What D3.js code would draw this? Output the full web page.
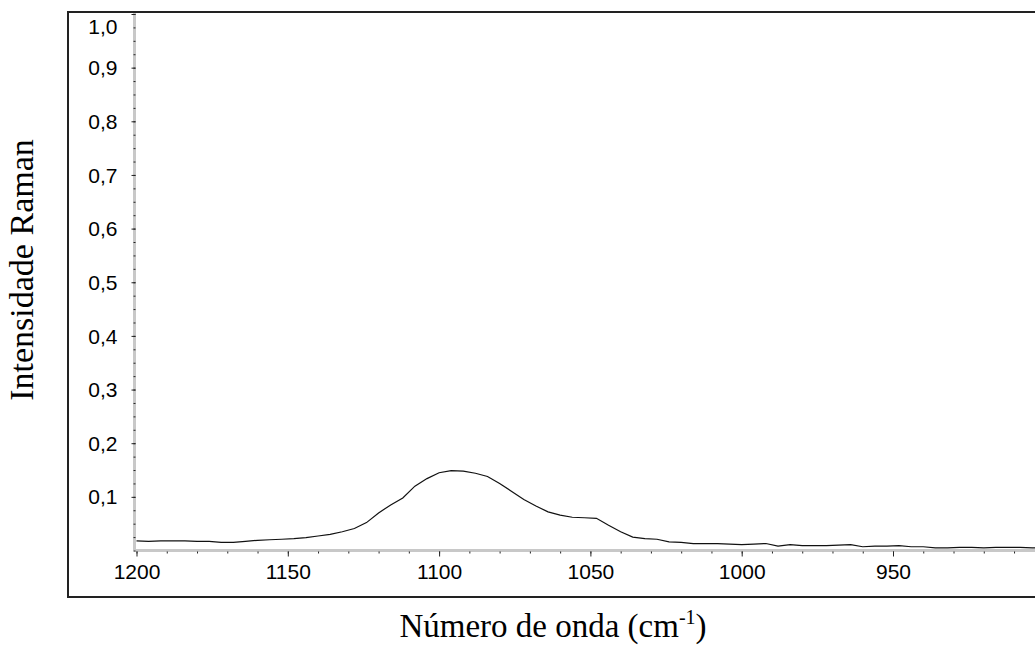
<!DOCTYPE html>
<html>
<head>
<meta charset="utf-8">
<script src="https://cdn.jsdelivr.net/npm/d3@7"></script>
<style>
  html, body { margin: 0; padding: 0; background: #fff; }
  svg { display: block; }
</style>
</head>
<body>
<svg id="chart" width="1035" height="650"></svg>
<script>
// Raman spectrum, 1200 → 900 cm-1
const wavenumber = [1200,1196,1192,1188,1184,1180,1176,1172,1168,1164,1160,1156,1152,1148,1144,1140,1136,1132,1128,1124,1120,1116,1112,1108,1104,1100,1096,1092,1088,1084,1080,1076,1072,1068,1064,1060,1056,1052,1048,1044,1040,1036,1032,1028,1024,1020,1016,1012,1008,1004,1000,996,992,988,984,980,976,972,968,964,960,956,952,948,944,940,936,932,928,924,920,916,912,908,904,900];
const intensity = [0.018,0.017,0.018,0.018,0.018,0.017,0.017,0.015,0.015,0.017,0.019,0.020,0.021,0.022,0.024,0.027,0.030,0.035,0.041,0.052,0.070,0.085,0.098,0.120,0.134,0.145,0.149,0.148,0.144,0.138,0.125,0.110,0.095,0.083,0.072,0.066,0.062,0.061,0.060,0.047,0.035,0.025,0.022,0.021,0.016,0.015,0.013,0.013,0.013,0.012,0.011,0.012,0.013,0.008,0.011,0.009,0.009,0.009,0.010,0.011,0.007,0.008,0.008,0.009,0.007,0.007,0.005,0.005,0.006,0.006,0.005,0.006,0.006,0.006,0.005,0.005];

const xTickValues = [1200,1150,1100,1050,1000,950];
const xTickLabels = ["1200","1150","1100","1050","1000","950"];
const yTickValues = [0.1,0.2,0.3,0.4,0.5,0.6,0.7,0.8,0.9,1.0];
const yTickLabels = ["0,1","0,2","0,3","0,4","0,5","0,6","0,7","0,8","0,9","1,0"];

const xTitle = "Número de onda (cm";
const xTitleSup = "-1";
const yTitle = "Intensidade Raman";

const svg = d3.select("#chart");

const x = d3.scaleLinear().domain([1200, 900]).range([136.5, 1044.3]);
const y = d3.scaleLinear().domain([0, 1]).range([550.5, 14]);

// outer frame
svg.append("rect")
  .attr("x", 68).attr("y", 12)
  .attr("width", 1100).attr("height", 585)
  .attr("fill", "none").attr("stroke", "#222").attr("stroke-width", 2);

const tickFont = "Liberation Sans, Arial, sans-serif";

// grey axis lines
svg.append("line")
  .attr("x1", x(1200) - 2).attr("x2", 1040)
  .attr("y1", y(0)).attr("y2", y(0))
  .attr("stroke", "#c8c8c8").attr("stroke-width", 3);
svg.append("line")
  .attr("x1", x(1200) - 2).attr("x2", x(1200) - 2)
  .attr("y1", y(1) - 1).attr("y2", y(0))
  .attr("stroke", "#c8c8c8").attr("stroke-width", 3);

// x axis: minor ticks every 10, major every 50
const xMinor = d3.range(1200, 899, -10);
const xAxisMinor = d3.axisBottom(x).tickValues(xMinor).tickSize(2).tickFormat("");
const gxm = svg.append("g").attr("transform", `translate(0,${y(0) + 1})`).call(xAxisMinor);
gxm.select(".domain").remove();
gxm.selectAll(".tick line").attr("stroke", "#222").attr("stroke-width", 1);

const xAxis = d3.axisBottom(x).tickValues(xTickValues).tickSize(5).tickPadding(8)
  .tickFormat((d, i) => xTickLabels[i]);
const gx = svg.append("g").attr("transform", `translate(0,${y(0) + 1})`).call(xAxis);
gx.select(".domain").remove();
gx.selectAll(".tick line").attr("stroke", "#222").attr("stroke-width", 1);
gx.selectAll(".tick text")
  .attr("font-family", tickFont).attr("font-size", 21).attr("fill", "#000");

// y axis: minor ticks every 0.025, major every 0.1
const yMinor = d3.range(0, 41).map(i => i * 0.025);
const yAxisMinor = d3.axisLeft(y).tickValues(yMinor).tickSize(2).tickFormat("");
const gym = svg.append("g").attr("transform", `translate(${x(1200) - 1},0)`).call(yAxisMinor);
gym.select(".domain").remove();
gym.selectAll(".tick line").attr("stroke", "#222").attr("stroke-width", 1);

const yAxis = d3.axisLeft(y).tickValues(yTickValues).tickSize(4).tickPadding(14)
  .tickFormat((d, i) => yTickLabels[i]);
const gy = svg.append("g").attr("transform", `translate(${x(1200) - 1},0)`).call(yAxis);
gy.select(".domain").remove();
gy.selectAll(".tick line").attr("stroke", "#222").attr("stroke-width", 1);
gy.selectAll(".tick text")
  .attr("font-family", tickFont).attr("font-size", 21).attr("fill", "#000")
  .attr("dy", d => d === 1.0 ? "0.95em" : "0.34em");

// spectrum
const line = d3.line()
  .x((d, i) => x(wavenumber[i]))
  .y(d => y(d))
  .curve(d3.curveLinear);
svg.append("path")
  .datum(intensity)
  .attr("d", line)
  .attr("fill", "none")
  .attr("stroke", "#111")
  .attr("stroke-width", 1.2);

// axis titles
const titleFont = "Liberation Serif, Times New Roman, serif";
const xt = svg.append("text")
  .attr("x", 553).attr("y", 637)
  .attr("text-anchor", "middle")
  .attr("font-family", titleFont).attr("font-size", 33).attr("fill", "#000");
xt.append("tspan").text(xTitle);
xt.append("tspan").attr("font-size", 20).attr("dy", -13).text(xTitleSup);
xt.append("tspan").attr("dy", 13).text(")");

svg.append("text")
  .attr("transform", "translate(33,270) rotate(-90)")
  .attr("text-anchor", "middle")
  .attr("font-family", titleFont).attr("font-size", 34).attr("fill", "#000")
  .text(yTitle);
</script>
</body>
</html>
